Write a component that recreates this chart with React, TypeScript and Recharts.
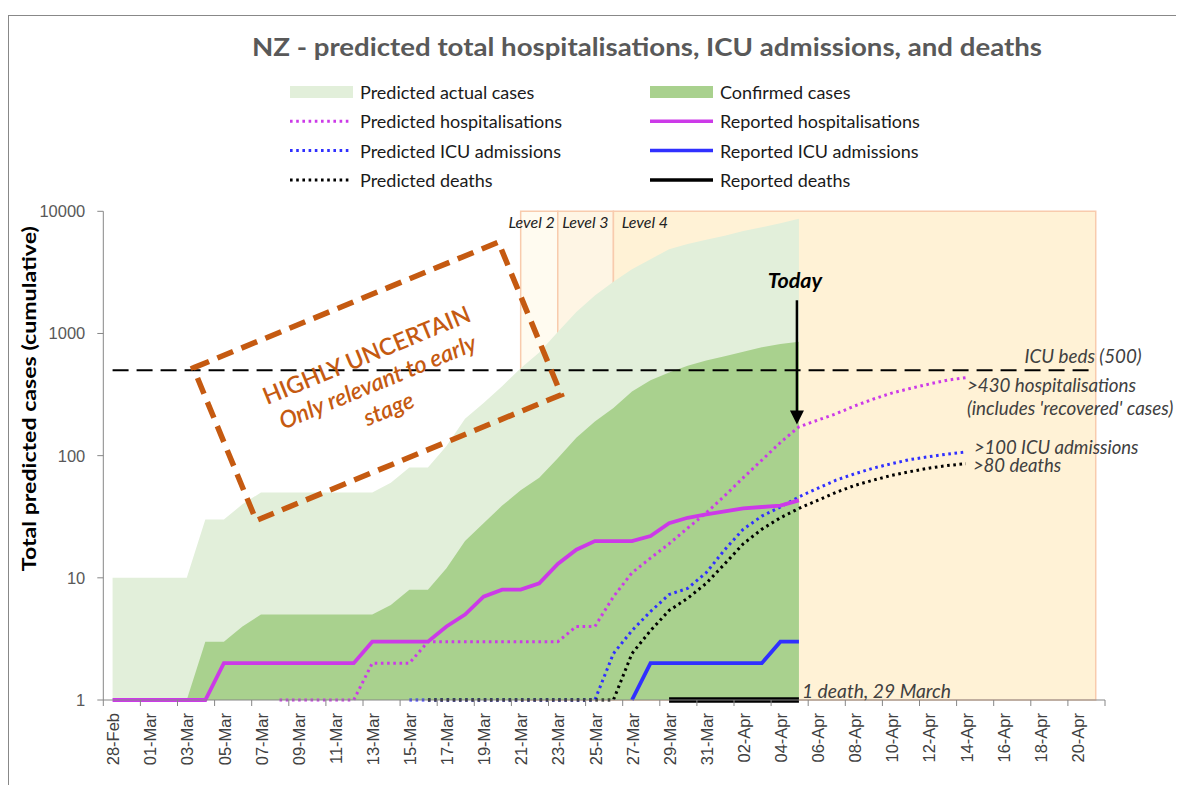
import React from 'react';
import {
  ComposedChart,
  Area,
  Line,
  XAxis,
  YAxis,
  ReferenceArea,
  ReferenceLine,
  ReferenceDot,
  Legend,
} from 'recharts';

const N = null;

// Categories (one per day)
const dates = [
  '28-Feb', '29-Feb',
  '01-Mar', '02-Mar', '03-Mar', '04-Mar', '05-Mar', '06-Mar', '07-Mar', '08-Mar', '09-Mar', '10-Mar',
  '11-Mar', '12-Mar', '13-Mar', '14-Mar', '15-Mar', '16-Mar', '17-Mar', '18-Mar', '19-Mar', '20-Mar',
  '21-Mar', '22-Mar', '23-Mar', '24-Mar', '25-Mar', '26-Mar', '27-Mar', '28-Mar', '29-Mar', '30-Mar', '31-Mar',
  '01-Apr', '02-Apr', '03-Apr', '04-Apr', '05-Apr', '06-Apr', '07-Apr', '08-Apr', '09-Apr', '10-Apr',
  '11-Apr', '12-Apr', '13-Apr', '14-Apr', '15-Apr', '16-Apr', '17-Apr', '18-Apr', '19-Apr', '20-Apr', '21-Apr',
];

const predictedActualCases = [
  10, 10, 10, 10, 10, 30, 30, 40, 50, 50, 50, 50, 50, 50, 50, 60, 80, 80, 120, 200,
  270, 370, 520, 700, 1030, 1500, 2050, 2650, 3350, 4050, 4900, 5400, 5850, 6300, 6900, 7400, 8000, 8700,
  N, N, N, N, N, N, N, N, N, N, N, N, N, N, N, N,
];

const confirmedCases = [
  N, N, N, N, 1, 3, 3, 4, 5, 5, 5, 5, 5, 5, 5, 6, 8, 8, 12, 20,
  28, 39, 52, 66, 95, 140, 190, 245, 335, 415, 480, 545, 600, 650, 710, 770, 820, 855,
  N, N, N, N, N, N, N, N, N, N, N, N, N, N, N, N,
];

const predictedHospitalisations = [
  N, N, N, N, N, N, N, N, N, 1, 1, 1, 1, 1, 2, 2, 2, 3, 3, 3,
  3, 3, 3, 3, 3, 4, 4, 7, 11, 14.5, 19, 25.5, 34, 47, 66, 92, 128, 172,
  195, 220, 255, 290, 325, 355, 385, 415, 435, N, N, N, N, N, N, N,
];

const reportedHospitalisations = [
  1, 1, 1, 1, 1, 1, 2, 2, 2, 2, 2, 2, 2, 2, 3, 3, 3, 3, 4, 5,
  7, 8, 8, 9, 13, 17, 20, 20, 20, 22, 28, 31, 33, 35, 37, 38, 39, 43,
  N, N, N, N, N, N, N, N, N, N, N, N, N, N, N, N,
];

const predictedICU = [
  N, N, N, N, N, N, N, N, N, N, N, N, N, N, N, N, 1, 1, 1, 1,
  1, 1, 1, 1, 1, 1, 1, 2.4, 3.7, 5.3, 7.3, 8.2, 11, 17, 25, 32, 38, 46,
  54, 63, 71, 79, 86, 93, 98, 103, 107, N, N, N, N, N, N, N,
];

const reportedICU = [
  N, N, N, N, N, N, N, N, N, N, N, N, N, N, N, N, N, N, N, N,
  N, N, N, N, N, N, N, N, 1, 2, 2, 2, 2, 2, 2, 2, 3, 3,
  N, N, N, N, N, N, N, N, N, N, N, N, N, N, N, N,
];

const predictedDeaths = [
  N, N, N, N, N, N, N, N, N, N, N, N, N, N, N, N, N, 1, 1, 1,
  1, 1, 1, 1, 1, 1, 1, 1, 2.4, 3.7, 5.4, 6.8, 9, 13, 19, 25, 31, 37,
  43, 50, 57, 63, 69, 74, 79, 83, 86, N, N, N, N, N, N, N,
];

const reportedDeaths = [
  N, N, N, N, N, N, N, N, N, N, N, N, N, N, N, N, N, N, N, N,
  N, N, N, N, N, N, N, N, N, N, 1, 1, 1, 1, 1, 1, 1, 1,
  N, N, N, N, N, N, N, N, N, N, N, N, N, N, N, N,
];

const yTicks = [1, 10, 100, 1000, 10000];

const data = dates.map((date, i) => ({
  date,
  predictedActual: predictedActualCases[i],
  confirmed: confirmedCases[i],
  predHosp: predictedHospitalisations[i],
  repHosp: reportedHospitalisations[i],
  predICU: predictedICU[i],
  repICU: reportedICU[i],
  predDeaths: predictedDeaths[i],
  repDeaths: reportedDeaths[i],
}));

// styling / layout
const W = 1176;
const H = 777;
const MARGIN = { top: 203.3, right: 79, bottom: 5, left: 35.3 };
const PLOT_W = W - MARGIN.left - 60 - MARGIN.right;
const HALF = PLOT_W / dates.length / 2;

const LIGHT_GREEN = '#E2EFDA';
const DARK_GREEN = '#A9D18E';
const MAGENTA = '#CC3AE8';
const BLUE = '#3030FF';
const BLACK = '#000000';
const AXIS = '#868686';
const SALMON = '#F8CBAD';
const ORANGE = '#C55A11';
const DOT = '2.6 3.6';
const SANS = 'Lato, "Open Sans", sans-serif';
const ARIAL = '"Liberation Sans", Arial, sans-serif';

const XTick = (props: any) => {
  const { x, y, payload } = props;
  return (
    <g>
      <line x1={x - HALF} x2={x - HALF} y1={y} y2={y + 6} stroke={AXIS} strokeWidth={1} />
      {payload.value === '20-Apr' && (
        <line x1={x + 3 * HALF} x2={x + 3 * HALF} y1={y} y2={y + 6} stroke={AXIS} strokeWidth={1} />
      )}
      <text
        transform={`translate(${x + 0.7},${y + 13}) rotate(-90)`}
        textAnchor="end"
        dominantBaseline="central"
        fontFamily={ARIAL}
        fontSize={16.5}
        fill="#404040"
      >
        {payload.value}
      </text>
    </g>
  );
};

const note =
  (text: string, dx: number, dy: number, opts: any = {}) =>
  (props: any) => {
    const vb = props.viewBox || {};
    const cx = (vb.x ?? 0) + (vb.width ?? 0) / 2;
    const cy = (vb.y ?? 0) + (vb.height ?? 0) / 2;
    return (
      <text
        x={cx + dx}
        y={cy + dy}
        dominantBaseline="central"
        fontFamily={SANS}
        fontStyle="italic"
        fontSize={18.8}
        fill="#404040"
        textAnchor="start"
        {...opts}
      >
        {text}
      </text>
    );
  };

const legendRows = [
  [
    { label: 'Predicted actual cases', kind: 'area', color: LIGHT_GREEN },
    { label: 'Confirmed cases', kind: 'area', color: DARK_GREEN },
  ],
  [
    { label: 'Predicted hospitalisations', kind: 'dot', color: MAGENTA },
    { label: 'Reported hospitalisations', kind: 'solid', color: MAGENTA },
  ],
  [
    { label: 'Predicted ICU admissions', kind: 'dot', color: BLUE },
    { label: 'Reported ICU admissions', kind: 'solid', color: BLUE },
  ],
  [
    { label: 'Predicted deaths', kind: 'dot', color: BLACK },
    { label: 'Reported deaths', kind: 'solid', color: BLACK },
  ],
];

const LegendContent = () => (
  <svg width={660} height={120}>
    {legendRows.map((row, r) =>
      row.map((item, c) => {
        const x0 = c === 0 ? 12 : 372;
        const y = 14 + r * 29.3;
        return (
          <g key={`${r}-${c}`}>
            {item.kind === 'area' && <rect x={x0} y={y - 6} width={63} height={12} fill={item.color} />}
            {item.kind === 'dot' && (
              <line x1={x0} x2={x0 + 60} y1={y} y2={y} stroke={item.color} strokeWidth={3} strokeDasharray={DOT} />
            )}
            {item.kind === 'solid' && (
              <line x1={x0} x2={x0 + 63} y1={y} y2={y} stroke={item.color} strokeWidth={3.5} />
            )}
            <text x={x0 + 70} y={y} dominantBaseline="central" fontFamily={SANS} fontSize={18} fill="#1a1a1a">
              {item.label}
            </text>
          </g>
        );
      })
    )}
  </svg>
);

const Overlay = () => (
  <svg
    width={W}
    height={H}
    style={{ position: 'absolute', left: 0, top: 0, pointerEvents: 'none' }}
  >
    <text
      x={639}
      y={38}
      textAnchor="middle"
      dominantBaseline="central"
      fontFamily={SANS}
      fontWeight={700}
      fontSize={25}
      fill="#595959"
      textLength={790}
      lengthAdjust="spacingAndGlyphs"
    >
      NZ - predicted total hospitalisations, ICU admissions, and deaths
    </text>
    <g transform="translate(369.3,373.3) rotate(-22.4)">
      <rect x={-165} y={-82.5} width={330} height={165} fill="none" stroke={ORANGE} strokeWidth={5.5} strokeDasharray="17 9" />
      <text x={0} y={-29} textAnchor="middle" dominantBaseline="central" fontFamily={SANS} fontWeight={600} fontSize={23.5} fill={ORANGE}>
        HIGHLY UNCERTAIN
      </text>
      <text x={0} y={0} textAnchor="middle" dominantBaseline="central" fontFamily={SANS} fontWeight={600} fontStyle="italic" fontSize={23.5} fill={ORANGE}>
        Only relevant to early
      </text>
      <text x={0} y={29} textAnchor="middle" dominantBaseline="central" fontFamily={SANS} fontWeight={600} fontStyle="italic" fontSize={23.5} fill={ORANGE}>
        stage
      </text>
    </g>
  </svg>
);

const TodayArrow = (props: any) => {
  const { x1, y1, x2, y2 } = props;
  return (
    <g>
      <line x1={x1 - 2} x2={x2 - 2} y1={y1} y2={y2 - 12} stroke="#000" strokeWidth={2.5} />
      <polygon points={`${x2 - 9},${y2 - 14} ${x2 + 5},${y2 - 14} ${x2 - 2},${y2}`} fill="#000" />
    </g>
  );
};

export default function App() {
  return (
    <div style={{ position: 'relative', width: W, height: H, background: '#fff' }}>
      <div
        style={{
          position: 'absolute',
          left: 0,
          top: 7,
          width: W,
          height: H - 7,
          borderTop: '1px solid #888',
          borderLeft: '1px solid #888',
          boxSizing: 'border-box',
        }}
      />
      <ComposedChart width={W} height={H} data={data} margin={MARGIN}>
        <Legend
          layout="horizontal"
          verticalAlign="middle"
          align="center"
          content={() => <LegendContent />}
          wrapperStyle={{ left: 270, top: 70, width: 660, height: 120 }}
        />
        <ReferenceArea x1="21-Mar" x2="23-Mar" y1={1} y2={10000} fill="#FFFBF0" fillOpacity={1} stroke={SALMON} strokeWidth={1.5} zIndex={50} ifOverflow="visible" />
        <ReferenceArea x1="23-Mar" x2="26-Mar" y1={1} y2={10000} fill="#FEF5E4" fillOpacity={1} stroke={SALMON} strokeWidth={1.5} zIndex={50} ifOverflow="visible" />
        <ReferenceArea x1="26-Mar" x2="21-Apr" y1={1} y2={10000} fill="#FFF2D6" fillOpacity={1} stroke={SALMON} strokeWidth={1.5} zIndex={50} ifOverflow="visible" />

        <XAxis
          dataKey="date"
          interval={1}
          padding={{ left: HALF, right: HALF }}
          tickLine={false}
          tickSize={0}
          tickMargin={0}
          height={80}
          axisLine={{ stroke: AXIS }}
          tick={<XTick />}
        />
        <YAxis
          scale="log"
          type="number"
          domain={[1, 10000]}
          ticks={yTicks}
          width={60}
          tickSize={6}
          tickMargin={12}
          axisLine={{ stroke: AXIS }}
          tickLine={{ stroke: AXIS }}
          tick={{ fontFamily: ARIAL, fontSize: 16.5, fill: '#595959' }}
          label={(props: any) => {
            const vb = props.viewBox || {};
            return (
              <text
                transform={`translate(${(vb.x ?? 0) - 15},${(vb.y ?? 0) + (vb.height ?? 0) / 2 - 57}) rotate(-90)`}
                textAnchor="middle"
                dominantBaseline="central"
                fontFamily={SANS}
                fontWeight={700}
                fontSize={19.5}
                fill="#000"
                textLength={345}
                lengthAdjust="spacingAndGlyphs"
              >
                Total predicted cases (cumulative)
              </text>
            );
          }}
        />

        <Area dataKey="predictedActual" type="linear" stroke="none" fill={LIGHT_GREEN} fillOpacity={1} isAnimationActive={false} />
        <Area dataKey="confirmed" type="linear" stroke="none" fill={DARK_GREEN} fillOpacity={1} isAnimationActive={false} />

        <ReferenceLine
          segment={[{ x: '28-Feb', y: 500 }, { x: '21-Apr', y: 500 }]}
          stroke="#000"
          strokeWidth={2}
          strokeDasharray="16 8"
          ifOverflow="visible"
        />

        <Line dataKey="predHosp" type="linear" stroke={MAGENTA} strokeWidth={3} strokeDasharray={DOT} dot={false} isAnimationActive={false} />
        <Line dataKey="predICU" type="linear" stroke={BLUE} strokeWidth={3} strokeDasharray={DOT} dot={false} isAnimationActive={false} />
        <Line dataKey="predDeaths" type="linear" stroke={BLACK} strokeWidth={3} strokeDasharray={DOT} dot={false} isAnimationActive={false} />
        <Line dataKey="repHosp" type="linear" stroke={MAGENTA} strokeWidth={3.8} dot={false} isAnimationActive={false} />
        <Line dataKey="repICU" type="linear" stroke={BLUE} strokeWidth={3.8} dot={false} isAnimationActive={false} />
        <Line dataKey="repDeaths" type="linear" stroke={BLACK} strokeWidth={5.5} dot={false} isAnimationActive={false} />

        <ReferenceLine
          segment={[{ x: '05-Apr', y: 1870 }, { x: '05-Apr', y: 180 }]}
          shape={(p: any) => <TodayArrow {...p} />}
          ifOverflow="visible"
        />

        <ReferenceDot x="05-Apr" y={1870} r={0} fill="none" stroke="none" ifOverflow="visible"
          label={note('Today', -4, -20, { textAnchor: 'middle', fontWeight: 700, fontSize: 21.5, fill: '#000' })} />
        <ReferenceDot x="21-Mar" y={10000} r={0} fill="none" stroke="none" ifOverflow="visible"
          label={note('Level 2', 11, 10, { textAnchor: 'middle', fontSize: 16, fill: '#222' })} />
        <ReferenceDot x="23-Mar" y={10000} r={0} fill="none" stroke="none" ifOverflow="visible"
          label={note('Level 3', 27.7, 10, { textAnchor: 'middle', fontSize: 16, fill: '#222' })} />
        <ReferenceDot x="26-Mar" y={10000} r={0} fill="none" stroke="none" ifOverflow="visible"
          label={note('Level 4', 31.5, 10, { textAnchor: 'middle', fontSize: 16, fill: '#222' })} />
        <ReferenceDot x="21-Apr" y={500} r={0} fill="none" stroke="none" ifOverflow="visible"
          label={note('ICU beds (500)', 46, -15, { textAnchor: 'end' })} />
        <ReferenceDot x="14-Apr" y={435} r={0} fill="none" stroke="none" ifOverflow="visible"
          label={note('>430 hospitalisations', 1, 7)} />
        <ReferenceDot x="14-Apr" y={435} r={0} fill="none" stroke="none" ifOverflow="visible"
          label={note("(includes 'recovered' cases)", 1, 30)} />
        <ReferenceDot x="14-Apr" y={107} r={0} fill="none" stroke="none" ifOverflow="visible"
          label={note('>100 ICU admissions', 8, -5, { fontSize: 18.5 })} />
        <ReferenceDot x="14-Apr" y={86} r={0} fill="none" stroke="none" ifOverflow="visible"
          label={note('>80 deaths', 7, 1.5, { fontSize: 18.5 })} />
        <ReferenceDot x="05-Apr" y={1} r={0} fill="none" stroke="none" ifOverflow="visible"
          label={note('1 death, 29 March', 3, -10, { fontSize: 19.3 })} />
      </ComposedChart>
      <Overlay />
    </div>
  );
}
